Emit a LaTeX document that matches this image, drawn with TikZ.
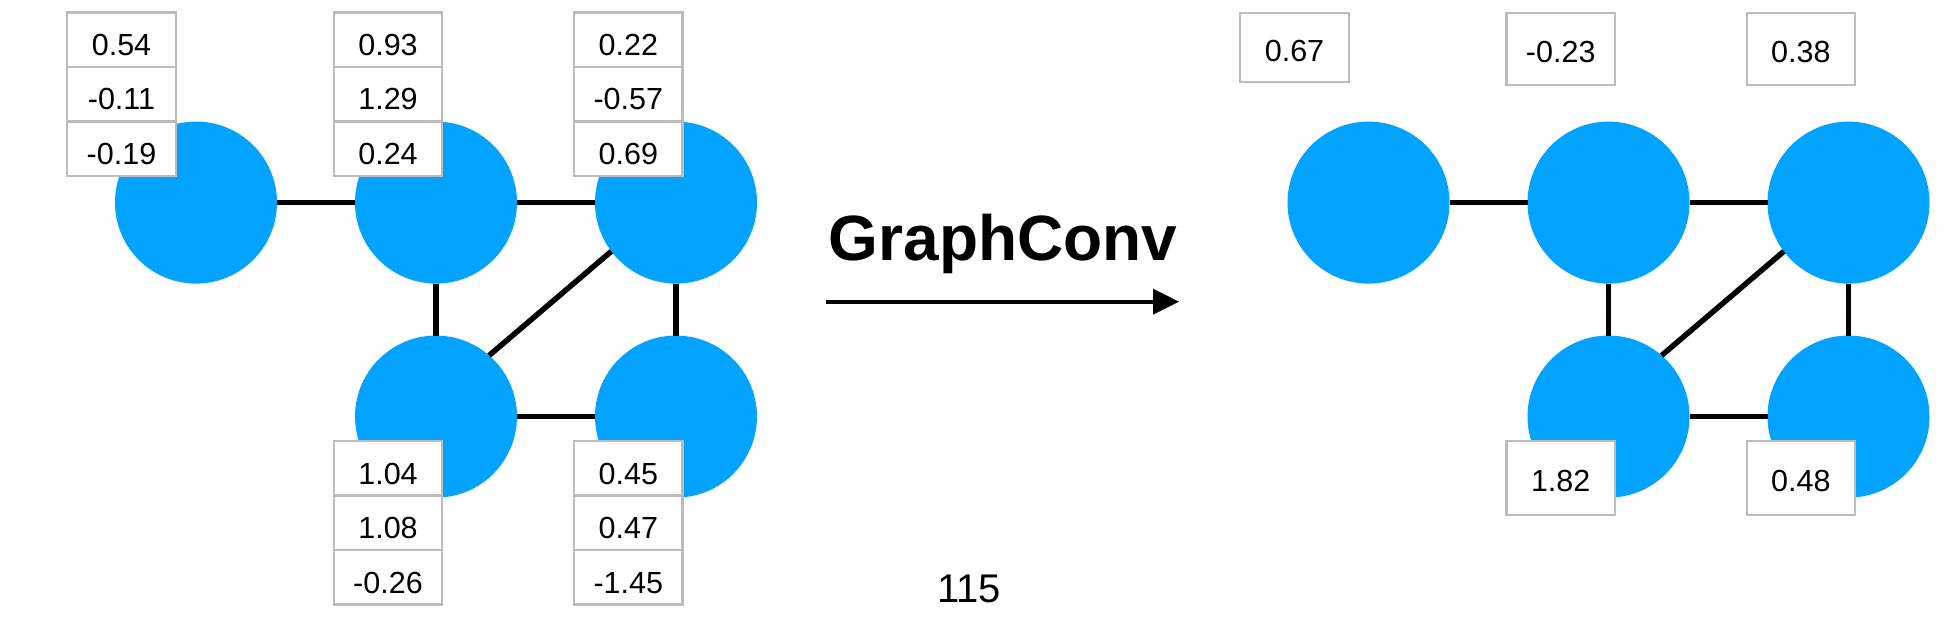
\documentclass[tikz,border=0pt]{standalone}
\usepackage{fontspec}
\setmainfont{Liberation Sans}
\usetikzlibrary{arrows.meta}
\definecolor{nodeblue}{RGB}{2,162,255}
\definecolor{boxgray}{RGB}{188,188,188}
\begin{document}
\begin{tikzpicture}[x=1pt,y=-1pt,
  gnode/.style={circle,fill=nodeblue,minimum size=162pt,inner sep=0pt,outer sep=0pt},
  edge/.style={line width=5.5pt,black},
  cell/.style={draw=boxgray,line width=2.2pt,fill=white,minimum width=108.5pt,minimum height=54.5pt,
    inner sep=0pt,outer sep=0pt,font=\fontsize{30.5}{36}\selectfont,text height=31.5pt,text depth=0pt},
  single/.style={cell,minimum height=72pt,text height=27.8pt}]
\useasboundingbox (0,0) rectangle (1955,626);
% ---- left graph ----
\node[gnode] (a1) at (196,202.6) {};
\node[gnode] (b1) at (436,202.6) {};
\node[gnode] (c1) at (676,202.6) {};
\node[gnode] (d1) at (436,416.6) {};
\node[gnode] (e1) at (676,416.6) {};
\draw[edge] (a1) -- (b1);
\draw[edge] (b1) -- (c1);
\draw[edge] (b1) -- (d1);
\draw[edge] (c1) -- (e1);
\draw[edge] (d1) -- (e1);
\draw[edge] (d1.49) -- (c1.217);
% feature boxes
\node[cell] (a1f1) at (121.5,39.75) {0.54};
\node[cell] (a1f2) at (121.5,94.25) {-0.11};
\node[cell] (a1f3) at (121.5,148.75) {-0.19};
\node[cell] (b1f1) at (388,39.75) {0.93};
\node[cell] (b1f2) at (388,94.25) {1.29};
\node[cell] (b1f3) at (388,148.75) {0.24};
\node[cell] (c1f1) at (628.3,39.75) {0.22};
\node[cell] (c1f2) at (628.3,94.25) {-0.57};
\node[cell] (c1f3) at (628.3,148.75) {0.69};
\node[cell] (d1f1) at (388,468.25) {1.04};
\node[cell] (d1f2) at (388,522.75) {1.08};
\node[cell] (d1f3) at (388,577.25) {-0.26};
\node[cell] (e1f1) at (628.3,468.25) {0.45};
\node[cell] (e1f2) at (628.3,522.75) {0.47};
\node[cell] (e1f3) at (628.3,577.25) {-1.45};
% ---- arrow ----
\node[anchor=base,font=\fontsize{64}{70}\selectfont\bfseries] (title) at (1003,260) {GraphConv};
\coordinate (arrS) at (826,301.7);
\coordinate (arrE) at (1179,301.7);
\draw[line width=3.8pt,-{Triangle[length=26pt,width=25pt]}] (arrS) -- (arrE);
\node[anchor=base,font=\fontsize{40}{44}\selectfont] (pagenum) at (969,602.7) {115};
% ---- right graph ----
\node[gnode] (a2) at (1368.5,202.6) {};
\node[gnode] (b2) at (1608.5,202.6) {};
\node[gnode] (c2) at (1848.5,202.6) {};
\node[gnode] (d2) at (1608.5,416.6) {};
\node[gnode] (e2) at (1848.5,416.6) {};
\draw[edge] (a2) -- (b2);
\draw[edge] (b2) -- (c2);
\draw[edge] (b2) -- (d2);
\draw[edge] (c2) -- (e2);
\draw[edge] (d2) -- (e2);
\draw[edge] (d2.49) -- (c2.217);
\node[single,minimum height=68.4pt] (a2f) at (1294.5,47.5) {0.67};
\node[single] (b2f) at (1560.7,48.8) {-0.23};
\node[single] (c2f) at (1800.9,48.8) {0.38};
\node[single,minimum height=74pt] (d2f) at (1560.7,478) {1.82};
\node[single,minimum height=74pt] (e2f) at (1800.9,478) {0.48};
\end{tikzpicture}
\end{document}
